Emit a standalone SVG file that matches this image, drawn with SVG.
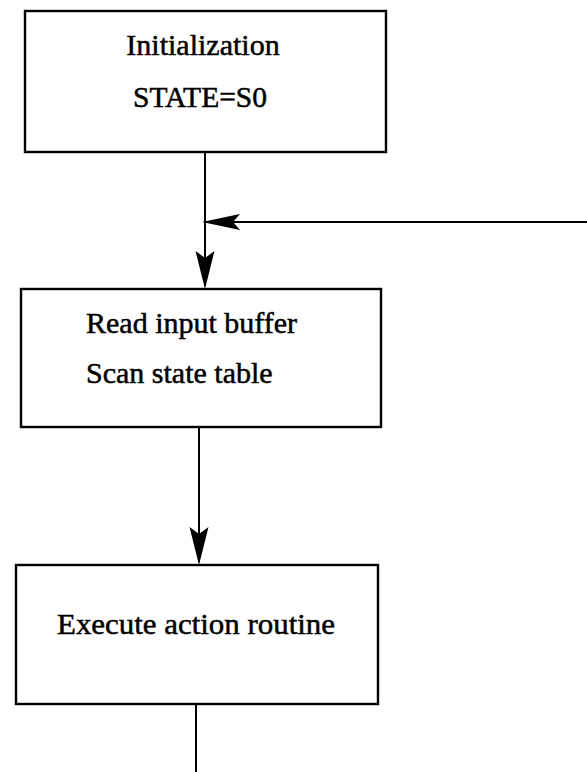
<svg xmlns="http://www.w3.org/2000/svg" width="587" height="772" viewBox="0 0 587 772">
  <style>
    .box { fill: #ffffff; stroke: #000000; stroke-width: 2.4; }
    .label { font-family: "Liberation Serif", "Times New Roman", serif; font-size: 30px; fill: #000000; stroke: #000000; stroke-width: 0.5; }
    .wire { fill: none; stroke: #000000; stroke-width: 2; }
    .head { fill: #000000; stroke: none; }
  </style>
  <defs>
    <!-- barbed arrowhead, tip at origin, pointing along +x -->
    <path id="barb" d="M0,0 L-38,-9.5 L-31,0 L-38,9.5 Z"/>
  </defs>
  <rect width="587" height="772" fill="#ffffff"/>

  <g id="connectors">
    <!-- init -> read -->
    <line class="wire" x1="205" y1="152" x2="205" y2="286"/>
    <use href="#barb" class="head" transform="translate(205,289) rotate(90)"/>
    <!-- loop-back entering from the right -->
    <line class="wire" x1="587" y1="222" x2="206" y2="222"/>
    <use href="#barb" class="head" transform="translate(202,222) rotate(180) scale(1,0.85)"/>
    <!-- read -> execute -->
    <line class="wire" x1="199" y1="427" x2="199" y2="562"/>
    <use href="#barb" class="head" transform="translate(199,565) rotate(90)"/>
    <!-- execute -> onward -->
    <line class="wire" x1="196" y1="704" x2="196" y2="772"/>
  </g>

  <g id="init">
    <rect class="box" x="25" y="11" width="361" height="141"/>
    <text class="label" x="203" y="55" text-anchor="middle">Initialization</text>
    <text class="label" x="200" y="107" text-anchor="middle" textLength="134" lengthAdjust="spacingAndGlyphs">STATE=S0</text>
  </g>

  <g id="read">
    <rect class="box" x="21" y="289" width="360" height="138"/>
    <text class="label" x="86" y="333">Read input buffer</text>
    <text class="label" x="86" y="383">Scan state table</text>
  </g>

  <g id="execute">
    <rect class="box" x="16" y="565" width="362" height="139"/>
    <text class="label" x="196" y="634" text-anchor="middle" textLength="278" lengthAdjust="spacingAndGlyphs">Execute action routine</text>
  </g>
</svg>
